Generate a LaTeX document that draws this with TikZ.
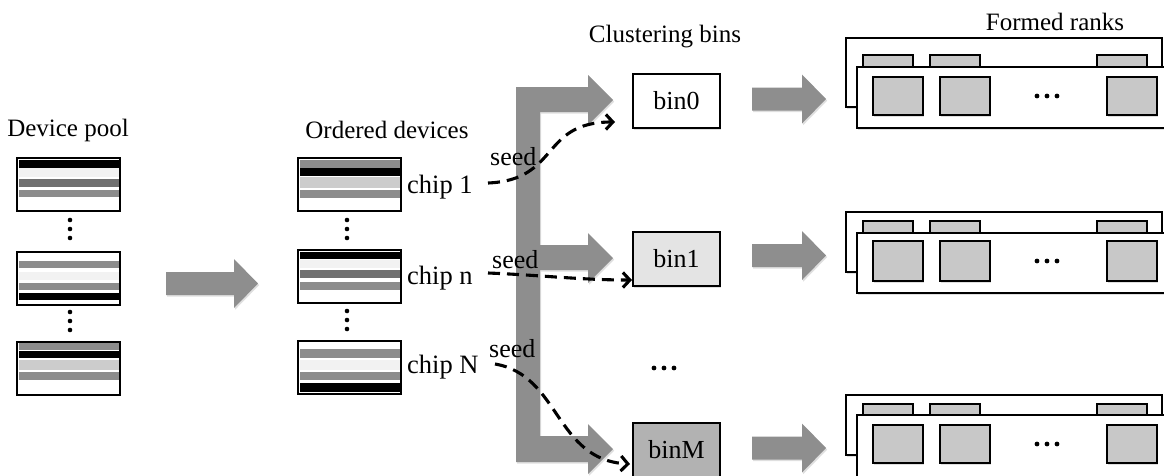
\documentclass[tikz,border=0pt]{standalone}
\usepackage{fontspec}
\setmainfont{Liberation Serif}
\usetikzlibrary{arrows.meta,shadows,calc}
\definecolor{fatgray}{HTML}{8E8E8E}
\definecolor{stlight}{HTML}{F2F2F2}
\definecolor{stmid}{HTML}{CCCCCC}
\definecolor{stgray}{HTML}{8C8C8C}
\definecolor{stdark}{HTML}{707070}
\definecolor{chipgray}{HTML}{C8C8C8}
\definecolor{binone}{HTML}{E4E4E4}
\definecolor{binm}{HTML}{B2B2B2}
\tikzset{
  softshadow/.style={drop shadow={shadow xshift=1.2pt,shadow yshift=-1.6pt,opacity=0.25}},
  boxline/.style={draw=black,line width=1.3pt},
  devbox/.style={boxline,fill=white,minimum width=102pt,minimum height=52pt,inner sep=0pt,softshadow},
  binbox/.style={boxline,minimum width=87pt,minimum height=54pt,inner sep=0pt,softshadow,font=\fontsize{26}{28}\selectfont},
  titletext/.style={font=\fontsize{25}{27}\selectfont,inner sep=0pt},
  chiptext/.style={font=\fontsize{26.5}{29}\selectfont,inner sep=0pt,anchor=base west},
  seedtext/.style={font=\fontsize{26}{28}\selectfont,inner sep=0pt,anchor=base west},
  seedarrow/.style={line width=3.1pt,dash pattern=on 12pt off 7pt,-{Straight Barb[length=7pt,width=15pt]}},
  fatfill/.style={fill=fatgray,softshadow},
  rankline/.style={draw=black,line width=1.3pt,softshadow}
}
\newcommand\myblockarrow[4]{%
  \fill[fatfill] (#1,#2-11.5) -- (#3,#2-11.5) -- (#3,#2-24.5) -- (#4,#2) -- (#3,#2+24.5) -- (#3,#2+11.5) -- (#1,#2+11.5) -- cycle;}
\newcommand\mychipbox[4]{%
  \node[devbox,anchor=north west] (#1) at (#2,#3) {};
  \foreach \stt/\stb/\stc in {#4} \fill[\stc] (#2+2,#3+\stt) rectangle (#2+102,#3+\stb);
  \draw[boxline] (#1.north west) rectangle (#1.south east);}
\newcommand\myrankgroup[7]{%
  \draw[rankline,fill=white] (846,#1) rectangle (1162,#7);
  \foreach \xa in {863,930,1097} \draw[rankline,fill=chipgray] (\xa,#2) rectangle (\xa+50,#3);
  \draw[rankline,fill=white] (857,#3) rectangle (1190,#6);
  \foreach \xa in {873,940,1107} \draw[rankline,fill=chipgray] (\xa,#4) rectangle (\xa+50,#5);
  \foreach \xa in {1037,1047,1057} \fill (\xa,{(#4+#5)/2}) circle (2.4pt);}
\begin{document}
\begin{tikzpicture}[x=1pt,y=-1pt]
\useasboundingbox (0,0) rectangle (1164,475);
\clip (0,0) rectangle (1164,475);

% titles
\node[titletext] (tpool) at (68,130) {Device pool};
\node[titletext] (tord) at (387,130) {Ordered devices};
\node[titletext] (tbins) at (665,37) {Clustering bins};
\node[titletext] (tranks) at (1055,22) {Formed ranks};

% device pool
\mychipbox{dp1}{17}{158}{2/10/black,10/19/stlight,21/29/stdark,32/39/stgray}
\mychipbox{dp2}{17}{252}{9/16/stgray,20/28/stlight,31/38/stgray,41/48/black}
\mychipbox{dp3}{17}{342}{1/8/stgray,9/16/black,18/28/stmid,30/38/stgray}
\foreach \yy in {220,229,238,312,321,330} \fill (70,\yy) circle (2.3pt);

% arrow pool -> ordered
\myblockarrow{166}{283.5}{234}{258}

% ordered devices
\mychipbox{od1}{298}{158}{2/10/stgray,10/18/black,19/30/stmid,32/40/stgray}
\mychipbox{od2}{298}{250}{2/9/black,10/18/stlight,20/28/stdark,32/40/stgray}
\mychipbox{od3}{298}{341}{8/17/stgray,19/29/stlight,31/39/stgray,42/51/black}
\foreach \yy in {220,229,238,311,320,329} \fill (347,\yy) circle (2.3pt);

\node[chiptext] (chip1) at (407,193) {chip 1};
\node[chiptext] (chipn) at (407,284) {chip n};
\node[chiptext] (chipN) at (407,373) {chip N};

% branching fat arrow
\fill[fatfill] (516,87) -- (588,87) -- (588,75) -- (613,100) -- (588,125) -- (588,112) -- (540,112)
  -- (540,245) -- (588,245) -- (588,233) -- (613,258) -- (588,283) -- (588,270) -- (540,270)
  -- (540,436) -- (588,436) -- (588,424) -- (613,449) -- (588,474) -- (588,462) -- (516,462) -- cycle;

% bins
\node[binbox,fill=white] (bin0) at (676.5,101) {bin0};
\node[binbox,fill=binone] (bin1) at (676.5,259) {bin1};
\node[binbox,fill=binm] (binM) at (676.5,450) {binM};
\foreach \xa in {654,664,674} \fill (\xa,368) circle (2.4pt);

% seeds
\coordinate (s1) at (488,183);
\coordinate (sn) at (488,273);
\coordinate (sN) at (495,364);
\coordinate (e0) at (615,122);
\coordinate (e1) at (632,280);
\coordinate (eM) at (630,464);
\draw[seedarrow] (s1) .. controls (560,180) and (540,122) .. (e0);
\draw[seedarrow] (sn) .. controls (540,275) and (580,280) .. (e1);
\draw[seedarrow] (sN) .. controls (560,375) and (555,460) .. (eM);
\node[seedtext] (seed1) at (490,165) {seed};
\node[seedtext] (seedn) at (492,268) {seed};
\node[seedtext] (seedN) at (489,357) {seed};

% bins -> ranks
\myblockarrow{752}{99}{802}{826}
\myblockarrow{752}{255.5}{802}{826}
\myblockarrow{752}{448}{802}{826}

% formed ranks
\myrankgroup{38}{55}{67}{77}{115}{128}{107}
\myrankgroup{212}{221}{233}{241}{281}{293}{272}
\myrankgroup{395}{404}{415}{425}{463}{480}{455}
\end{tikzpicture}
\end{document}
